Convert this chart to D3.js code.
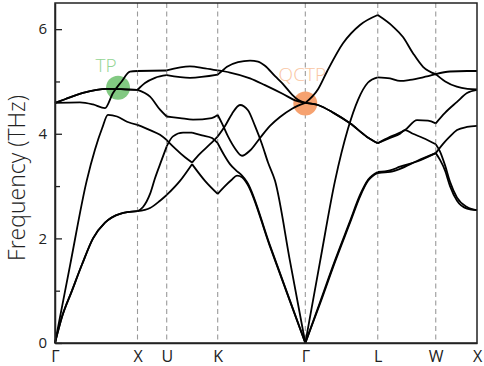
<!DOCTYPE html>
<html>
<head>
<meta charset="utf-8">
<script src="https://cdn.jsdelivr.net/npm/d3@7"></script>
<style>
  body { margin: 0; background: #fff; }
  svg { display: block; font-family: "Open Sans", "DejaVu Sans", sans-serif; }
</style>
</head>
<body>
<div class="svg_container"></div>
<script>
// high-symmetry path (units of 2pi/a, Gamma-X = 1)
var kPoints = [0, 1.0, 1.354, 1.972, 3.034, 3.912, 4.615, 5.115];
var kLabels = ["Γ", "X", "U", "K", "Γ", "L", "W", "X"];
var kinks = [1.661];

var yTicks = [0, 2, 4, 6];
var yMinor = [1, 3, 5];

// phonon branches, [k, frequency THz]
var band1 = [[0, 0], [0.085, 0.5], [0.206, 1.0], [0.327, 1.5], [0.461, 2.0], [0.606, 2.3], [0.788, 2.47], [1.0, 2.52],
    [1.152, 2.58], [1.273, 2.72], [1.354, 2.83], [1.515, 3.1], [1.661, 3.42], [1.818, 3.1], [1.972, 2.85],
    [2.048, 2.98], [2.142, 3.12], [2.206, 3.2], [2.267, 3.17], [2.327, 3.05], [2.6, 1.87], [2.85, 0.79], [3.034, 0],
    [3.212, 0.75], [3.394, 1.55], [3.576, 2.3], [3.697, 2.8], [3.794, 3.1], [3.912, 3.25],
    [4.061, 3.27], [4.182, 3.33], [4.388, 3.48], [4.615, 3.63],
    [4.667, 3.5], [4.727, 3.3], [4.788, 3.0], [4.873, 2.72], [4.994, 2.57], [5.115, 2.54]];

var band2 = [[0, 0], [0.085, 0.5], [0.206, 1.0], [0.327, 1.5], [0.461, 2.0], [0.606, 2.3], [0.788, 2.47], [1.0, 2.52],
    [1.067, 2.6], [1.152, 2.85], [1.212, 3.15], [1.293, 3.5], [1.354, 3.76], [1.430, 3.95], [1.552, 4.02], [1.661, 4.02], [1.782, 3.97], [1.903, 3.92], [1.972, 3.82],
    [2.048, 3.6], [2.121, 3.42], [2.194, 3.3], [2.267, 3.2], [2.327, 3.08], [2.6, 1.89], [2.85, 0.8], [3.034, 0],
    [3.212, 0.78], [3.394, 1.58], [3.576, 2.33], [3.697, 2.83], [3.794, 3.12], [3.912, 3.27],
    [4.061, 3.3], [4.182, 3.37], [4.388, 3.47], [4.615, 3.63],
    [4.727, 3.85], [4.788, 3.95], [4.873, 4.07], [4.994, 4.13], [5.115, 4.15]];

var band3 = [[0, 0], [0.182, 1.48], [0.384, 3.1], [0.485, 3.7], [0.570, 4.1], [0.642, 4.36], [0.752, 4.33], [0.873, 4.23], [1.0, 4.17],
    [1.152, 4.07], [1.273, 3.98], [1.354, 3.88], [1.455, 3.72], [1.576, 3.55], [1.661, 3.45], [1.758, 3.62], [1.879, 3.8], [1.972, 3.95],
    [2.061, 4.15], [2.145, 4.38], [2.242, 4.55], [2.339, 4.45], [2.424, 4.15], [2.509, 3.8], [2.582, 3.45], [2.667, 3.1], [2.85, 1.55], [3.034, 0],
    [3.212, 1.55], [3.394, 3.1], [3.552, 4.1], [3.673, 4.65], [3.794, 4.98], [3.912, 5.08],
    [4.061, 5.06], [4.182, 5.01], [4.303, 5.03], [4.461, 5.08], [4.615, 5.14],
    [4.788, 5.19], [4.994, 5.2], [5.115, 5.2]];

var band4 = [[0, 4.59], [0.121, 4.66], [0.339, 4.78], [0.630, 4.86], [0.848, 4.85], [1.0, 4.84],
    [1.152, 4.71], [1.273, 4.46], [1.354, 4.33], [1.515, 4.3], [1.673, 4.27], [1.899, 4.3], [1.972, 4.36],
    [2.024, 4.2], [2.097, 3.95], [2.182, 3.72], [2.267, 3.58], [2.364, 3.68], [2.485, 3.92], [2.606, 4.15], [2.727, 4.32], [2.873, 4.48], [3.034, 4.59],
    [3.188, 4.55], [3.376, 4.4], [3.576, 4.2], [3.782, 3.94], [3.912, 3.82],
    [4.061, 3.94], [4.242, 4.07], [4.388, 4.26], [4.521, 4.25], [4.615, 4.2],
    [4.727, 4.4], [4.873, 4.61], [4.994, 4.78], [5.115, 4.84]];

var band5 = [[0, 4.59], [0.121, 4.66], [0.339, 4.78], [0.630, 4.86], [0.848, 4.85], [1.0, 4.84],
    [1.091, 4.97], [1.212, 5.07], [1.354, 5.12], [1.636, 5.07], [1.972, 5.13],
    [2.024, 5.2], [2.085, 5.28], [2.218, 5.37], [2.364, 5.4], [2.461, 5.38], [2.545, 5.3], [2.667, 5.1], [2.764, 4.95], [2.873, 4.75], [2.945, 4.65], [3.034, 4.59],
    [3.188, 4.55], [3.376, 4.4], [3.576, 4.2], [3.782, 3.94], [3.912, 3.82],
    [4.061, 3.92], [4.182, 4.0], [4.242, 4.07], [4.339, 4.0], [4.461, 3.92], [4.615, 3.8],
    [4.667, 3.66], [4.727, 3.4], [4.788, 3.08], [4.873, 2.78], [4.994, 2.6], [5.115, 2.54]];

var band6 = [[0, 4.59], [0.303, 4.6], [0.461, 4.56], [0.606, 4.49], [0.703, 4.78], [0.808, 5.0], [0.909, 5.19], [1.0, 5.2],
    [1.354, 5.21], [1.636, 5.29], [1.818, 5.25], [1.972, 5.21],
    [2.121, 5.17], [2.364, 5.06], [2.545, 4.93], [2.764, 4.76], [2.909, 4.64], [3.034, 4.59],
    [3.188, 4.85], [3.297, 5.19], [3.491, 5.73], [3.697, 6.08], [3.912, 6.27],
    [4.097, 6.05], [4.218, 5.85], [4.339, 5.54], [4.461, 5.28], [4.615, 5.14],
    [4.73, 5.0], [4.87, 4.9], [5.0, 4.86], [5.115, 4.85]];

var bands = [band1, band2, band3, band4, band5, band6];

// topological points
var markNames = ["TP", "QCTP"];
var markK = [0.764, 3.034];
var markF = [4.88, 4.58];
var markFill = ["#82c982", "#f6a270"];
var markText = ["#94d594", "#f9c6a3"];

const WIDTH = 484;
const HEIGHT = 366;
const LEFT = 55, RIGHT = 477, TOP = 3, BOTTOM = 343;

var translate = function (x, y) {
    return "translate(" + x + "," + y + ")";
};

var xScale = d3.scaleLinear()
    .domain([0, kPoints[kPoints.length - 1]])
    .range([LEFT, RIGHT]);

var yScale = d3.scaleLinear()
    .domain([0, 6.5])
    .range([BOTTOM, TOP]);

var line = d3.line()
    .x(function (d) { return xScale(d[0]); })
    .y(function (d) { return yScale(d[1]); })
    .curve(d3.curveMonotoneX);

// cut a branch at every high-symmetry point (and kinks) so cusps stay sharp
var splitBand = function (band) {
    var breaks = kPoints.concat(kinks);
    var pieces = [], cur = [];
    band.forEach(function (p, i) {
        cur.push(p);
        var isBreak = breaks.some(function (b) { return Math.abs(b - p[0]) < 1e-6; });
        if (isBreak && i > 0 && i < band.length - 1) {
            pieces.push(cur);
            cur = [p];
        }
    });
    if (cur.length > 1) pieces.push(cur);
    return pieces;
};

var svg = d3.select('.svg_container').append('svg')
    .attr('width', WIDTH)
    .attr('height', HEIGHT);

// dashed separators
svg.append('g')
    .selectAll('line')
    .data(kPoints.slice(1, -1))
    .enter().append('line')
    .attr('x1', function (d) { return xScale(d); })
    .attr('x2', function (d) { return xScale(d); })
    .attr('y1', TOP)
    .attr('y2', BOTTOM)
    .attr('stroke', '#9a9a9a')
    .attr('stroke-width', 1.1)
    .attr('stroke-dasharray', '5,3.5');

// highlighted points under the curves
svg.append('g')
    .selectAll('circle')
    .data(markNames)
    .enter().append('circle')
    .attr('cx', function (d, i) { return xScale(markK[i]); })
    .attr('cy', function (d, i) { return yScale(markF[i]); })
    .attr('r', 12)
    .attr('fill', function (d, i) { return markFill[i]; });

svg.append('g')
    .selectAll('text')
    .data(markNames)
    .enter().append('text')
    .attr('x', function (d, i) { return xScale(markK[i]) + (i === 0 ? -12 : -3); })
    .attr('y', function (d, i) { return yScale(markF[i]) + (i === 0 ? -16 : -22); })
    .attr('text-anchor', 'middle')
    .attr('font-size', 19)
    .attr('font-weight', 300)
    .attr('fill', function (d, i) { return markText[i]; })
    .text(function (d) { return d; });

// bands
var g = svg.append('g').attr('class', 'bands');
bands.forEach(function (band) {
    splitBand(band).forEach(function (piece) {
        g.append('path')
            .attr('d', line(piece))
            .attr('fill', 'none')
            .attr('stroke', '#000')
            .attr('stroke-width', 1.8)
            .attr('stroke-linejoin', 'round');
    });
});

// frame
svg.append('rect')
    .attr('x', LEFT)
    .attr('y', TOP)
    .attr('width', RIGHT - LEFT)
    .attr('height', BOTTOM - TOP)
    .attr('fill', 'none')
    .attr('stroke', '#222')
    .attr('stroke-width', 1.5);

// y axis
var yAxis = d3.axisLeft(yScale)
    .tickValues(yTicks)
    .tickSizeInner(-7)
    .tickSizeOuter(0)
    .tickPadding(8)
    .tickFormat(d3.format('d'));

var yg = svg.append('g')
    .attr('transform', translate(LEFT, 0))
    .call(yAxis);
yg.select('.domain').attr('stroke', '#222').attr('stroke-width', 1.5);
yg.selectAll('.tick line').attr('stroke', '#222').attr('stroke-width', 1.3);
yg.selectAll('.tick text').attr('font-size', 15).attr('fill', '#222')
    .attr('font-family', '"Open Sans", sans-serif');

var ym = svg.append('g')
    .attr('transform', translate(LEFT, 0))
    .call(d3.axisLeft(yScale).tickValues(yMinor).tickSizeInner(-5).tickSizeOuter(0).tickFormat(''));
ym.select('.domain').remove();
ym.selectAll('.tick line').attr('stroke', '#222').attr('stroke-width', 1.3);

// x axis
var xAxis = d3.axisBottom(xScale)
    .tickValues(kPoints)
    .tickSize(0)
    .tickPadding(8)
    .tickFormat(function (d, i) { return kLabels[i]; });

var xg = svg.append('g')
    .attr('transform', translate(0, BOTTOM))
    .call(xAxis);
xg.select('.domain').attr('stroke', '#222').attr('stroke-width', 1.5);
xg.selectAll('.tick text').attr('font-size', 16).attr('fill', '#222')
    .attr('font-family', '"Open Sans", sans-serif');

// y label
svg.append('text')
    .attr('transform', translate(25, 178) + ' rotate(-90)')
    .attr('text-anchor', 'middle')
    .attr('font-size', 23)
    .attr('font-weight', 300)
    .attr('fill', '#222')
    .text('Frequency (THz)');
</script>
</body>
</html>
